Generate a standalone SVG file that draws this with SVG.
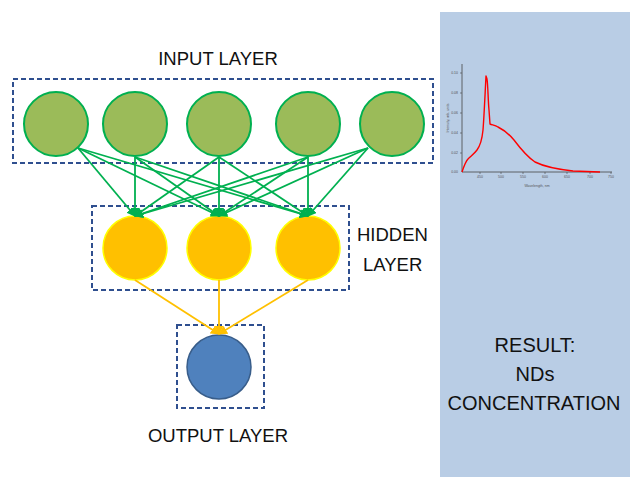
<svg xmlns="http://www.w3.org/2000/svg" width="630" height="477" viewBox="0 0 630 477">
<defs>
<style>
.lbl{font-family:"Liberation Sans",Arial,sans-serif;fill:#111;}
.box{fill:none;stroke:#2F4F8F;stroke-width:2;stroke-dasharray:5 3;}
.inp{fill:#9BBB59;stroke:#00B050;stroke-width:2;}
.hid{fill:#FFC000;stroke:#FFFF00;stroke-width:1.5;}
.out{fill:#4F81BD;stroke:#385D8A;stroke-width:1.5;}
.g{stroke:#00B050;stroke-width:1.8;fill:none;marker-end:url(#ag);}
.o{stroke:#FFC000;stroke-width:1.8;fill:none;marker-end:url(#ao);}
.tk{font-family:"Liberation Sans",Arial,sans-serif;font-size:3.5px;fill:#555;}
</style>
<marker id="ag" viewBox="0 0 10 10" refX="9" refY="5" markerWidth="5" markerHeight="5" orient="auto"><path d="M0,0 L10,5 L0,10 z" fill="#00B050"/></marker>
<marker id="ao" viewBox="0 0 10 10" refX="9" refY="5" markerWidth="5" markerHeight="5" orient="auto"><path d="M0,0 L10,5 L0,10 z" fill="#FFC000"/></marker>
</defs>
<rect width="630" height="477" fill="#fff"/>
<g id="result-panel">
<rect x="440" y="12" width="190" height="465" fill="#B9CDE5"/>
<g id="chart">
<path d="M462,64 V172 H612" fill="none" stroke="#444" stroke-width="0.8"/>
<g stroke="#444" stroke-width="0.6">
<path d="M460,73H462M460,93H462M460,113H462M460,133H462M460,153H462"/>
<path d="M480,172V174M501,172V174M523,172V174M545,172V174M567,172V174M590,172V174M611,172V174"/>
</g>
<g class="tk" text-anchor="end">
<text x="458" y="74">0.10</text><text x="458" y="94">0.08</text><text x="458" y="114">0.06</text><text x="458" y="134">0.04</text><text x="458" y="154">0.02</text><text x="458" y="173">0.00</text>
</g>
<g class="tk" text-anchor="middle">
<text x="480" y="178">450</text><text x="501" y="178">500</text><text x="523" y="178">550</text><text x="545" y="178">600</text><text x="567" y="178">650</text><text x="590" y="178">700</text><text x="611" y="178">750</text>
<text x="537" y="187">Wavelength, nm</text>
<text transform="translate(449,118) rotate(-90)">Intensity, arb. units</text>
</g>
<path d="M462,172 C464,166 466,161 468,159 C471,156 474,154 477,150 C480,146 482,140 483,130 C484,118 485,95 486,76 L487,79 C488,85 488,100 489,110 L490,124 C492,125 495,125 498,127 C504,130 509,134 514,140 C520,148 526,156 535,162 C545,167 555,169 573,171 L600,172" fill="none" stroke="#FF0000" stroke-width="1.4" stroke-linejoin="round"/>
</g>
<text class="lbl" x="535" y="352" font-size="20" text-anchor="middle">RESULT:</text>
<text class="lbl" x="535" y="381" font-size="20" text-anchor="middle">NDs</text>
<text class="lbl" x="534" y="410" font-size="20" text-anchor="middle">CONCENTRATION</text>
</g>
<g id="input-layer">
<rect class="box" x="13" y="79" width="420" height="84"/>
<text class="lbl" x="218" y="65" font-size="18.5" text-anchor="middle">INPUT LAYER</text>
</g>
<g id="in1"><circle class="inp" cx="56" cy="124" r="32"/></g>
<g id="in2"><circle class="inp" cx="135" cy="124" r="32"/></g>
<g id="in3"><circle class="inp" cx="219" cy="124" r="32"/></g>
<g id="in4"><circle class="inp" cx="308" cy="124" r="32"/></g>
<g id="in5"><circle class="inp" cx="392" cy="124" r="32"/></g>
<g id="hidden-layer">
<rect class="box" x="92" y="206" width="257" height="84"/>
<text class="lbl" x="357" y="241" font-size="18.5">HIDDEN</text>
<text class="lbl" x="363" y="271" font-size="18.5">LAYER</text>
</g>
<g id="h1"><circle class="hid" cx="135" cy="248" r="32"/></g>
<g id="h2"><circle class="hid" cx="219" cy="248" r="32"/></g>
<g id="h3"><circle class="hid" cx="308" cy="248" r="32"/></g>
<g id="output-layer">
<rect class="box" x="177" y="325" width="87" height="83"/>
<text class="lbl" x="218" y="442" font-size="18.5" text-anchor="middle">OUTPUT LAYER</text>
</g>
<g id="out1"><circle class="out" cx="219" cy="367" r="32"/></g>
<g id="connectors">
<path class="g" d="M78,148L135,216"/><path class="g" d="M78,148L219,216"/><path class="g" d="M78,148L308,216"/>
<path class="g" d="M135,157L135,216"/><path class="g" d="M135,157L219,216"/><path class="g" d="M135,157L308,216"/>
<path class="g" d="M219,157L135,216"/><path class="g" d="M219,157L219,216"/><path class="g" d="M219,157L308,216"/>
<path class="g" d="M308,157L135,216"/><path class="g" d="M308,157L219,216"/><path class="g" d="M308,157L308,216"/>
<path class="g" d="M368,148L135,216"/><path class="g" d="M368,148L219,216"/><path class="g" d="M368,148L308,216"/>
<path class="o" d="M135,280L219,334"/><path class="o" d="M219,280L219,334"/><path class="o" d="M308,280L219,334"/>
</g>
</svg>
